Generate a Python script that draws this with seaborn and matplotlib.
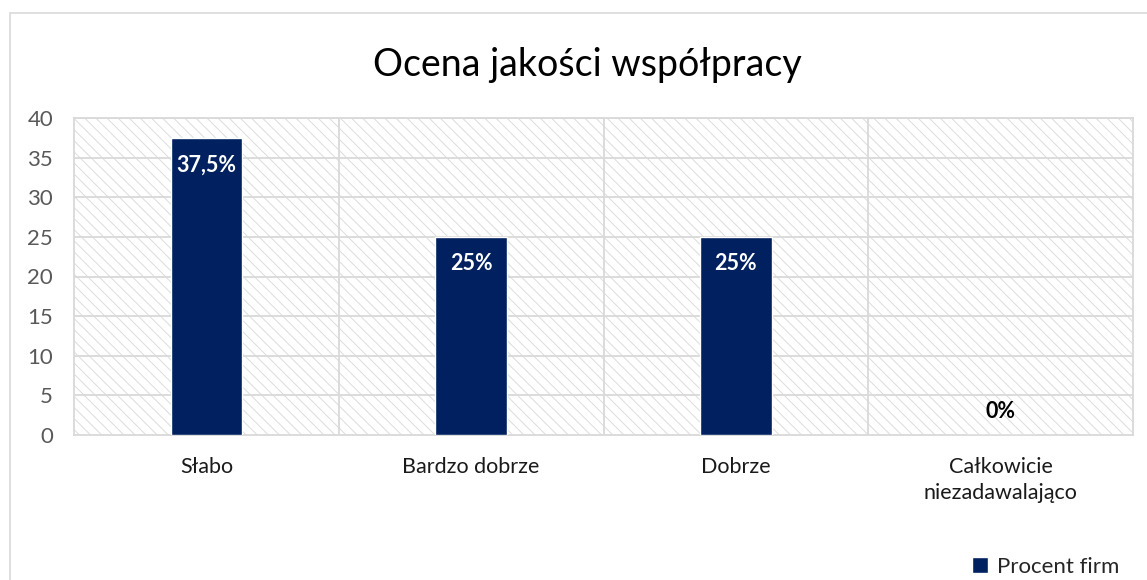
import pandas as pd
import seaborn as sns
import matplotlib.pyplot as plt
from matplotlib.patches import Rectangle, Patch

categories = ["Słabo", "Bardzo dobrze", "Dobrze", "Całkowicie\nniezadawalająco"]
values = [37.5, 25, 25, 0]
labels = ["37,5%", "25%", "25%", "0%"]
series_name = "Procent firm"

navy = "#002060"
grid_gray = "#D9D9D9"

sns.set_style("white")
plt.rcParams['font.family'] = ['Lato', 'DejaVu Sans']
plt.rcParams['hatch.color'] = "#DCDCDC"
plt.rcParams['hatch.linewidth'] = 0.7

df = pd.DataFrame({"kategoria": categories, "procent": values})

fig = plt.figure(figsize=(11.47, 5.8), dpi=100)
ax = fig.add_axes([74 / 1147, 1 - 435 / 580, (1133 - 74) / 1147, (435 - 118) / 580])

# outer chart border (cut off at right and bottom like the screenshot)
fig.patches.append(Rectangle((10 / 1147, -0.1), 1.2, 1 - 13 / 580 + 0.1,
                             transform=fig.transFigure, fill=False,
                             edgecolor=grid_gray, linewidth=1.2, zorder=0))

# hatched plot background
ax.add_patch(Rectangle((0, 0), 1, 1, transform=ax.transAxes, facecolor="white",
                       edgecolor="#DCDCDC", hatch="\\\\\\", linewidth=0, zorder=0))

sns.barplot(data=df, x="kategoria", y="procent", color=navy, width=0.27,
            saturation=1, ax=ax, zorder=3)

ax.set_ylim(0, 40)
ax.set_xlim(-0.5, 3.5)
ax.set_yticks(range(0, 45, 5))
for y in range(5, 45, 5):
    ax.axhline(y, color=grid_gray, linewidth=1.3, zorder=1)
for x in [0.5, 1.5, 2.5]:
    ax.axvline(x, color=grid_gray, linewidth=1.3, zorder=1)
for s in ax.spines.values():
    s.set_color(grid_gray)
    s.set_linewidth(1.3)

ax.set_xlabel("")
ax.set_ylabel("")
ax.tick_params(axis="y", length=0, pad=15, labelsize=16, labelcolor="#595959")
ax.tick_params(axis="x", length=0, pad=16, labelsize=15.5, labelcolor="#1a1a1a")
for t in ax.get_xticklabels():
    t.set_linespacing(1.35)
    t.set_verticalalignment("top")

for i, (v, lab) in enumerate(zip(values, labels)):
    if v > 0:
        ax.annotate(lab, (i, v), xytext=(0, -27), textcoords="offset pixels",
                    ha="center", va="center", color="white", fontsize=15.5,
                    fontweight="bold", zorder=5)
    else:
        ax.annotate(lab, (i, v), xytext=(0, 24), textcoords="offset pixels",
                    ha="center", va="center", color="black", fontsize=15.5,
                    fontweight="bold", zorder=5)

fig.text(587 / 1147, 1 - 65 / 580, "Ocena jakości współpracy", ha="center",
         va="center", fontsize=27, color="black")

fig.legend(handles=[Patch(facecolor=navy, label=series_name)], loc="lower right",
           bbox_to_anchor=(1137 / 1147, -0.025), frameon=False, fontsize=16,
           handlelength=0.7, handleheight=0.7, handletextpad=0.4, borderpad=0.3)

fig.savefig("out.png", dpi=100)
